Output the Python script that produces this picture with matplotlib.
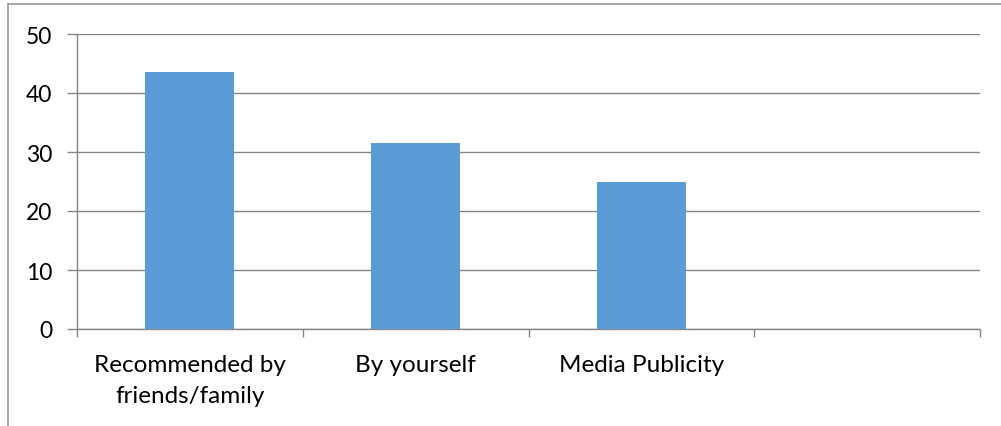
import numpy as np
import matplotlib.pyplot as plt
from matplotlib.lines import Line2D

categories = ['Recommended by\nfriends/family', 'By yourself', 'Media Publicity', '']
values = [43.6, 31.5, 25.0]
yticks = [0, 10, 20, 30, 40, 50]

plt.rcParams['font.family'] = ['Lato', 'DejaVu Sans']

W, H = 1001, 427
fig = plt.figure(figsize=(W / 100, H / 100), dpi=100)
ax = fig.add_axes([77 / W, (H - 330) / H, (980 - 77) / W, (330 - 35) / H])

grey = '#868686'
centers = np.arange(len(categories)) + 0.5
ax.bar(centers[:len(values)], values, width=0.395, color='#5B9BD5', zorder=3)

ax.set_xlim(0, len(categories))
ax.set_ylim(0, 50)
ax.set_yticks(yticks)
ax.yaxis.grid(True, color=grey, linewidth=1)
ax.set_axisbelow(True)

# category borders as major ticks, labels centred as minor ticks
ax.set_xticks(np.arange(len(categories) + 1))
ax.set_xticklabels([])
ax.set_xticks(centers, minor=True)
ax.set_xticklabels(categories, minor=True, fontsize=17.5, linespacing=1.6)
ax.tick_params(axis='x', which='major', length=5.8, color=grey, width=1)
ax.tick_params(axis='x', which='minor', length=0, pad=18)
ax.tick_params(axis='y', length=7.2, color=grey, width=1, labelsize=16.5, pad=10.5)

for s in ['top', 'right']:
    ax.spines[s].set_visible(False)
for s in ['left', 'bottom']:
    ax.spines[s].set_color(grey)
    ax.spines[s].set_linewidth(1)

# chart area border (only left and top visible)
fig.add_artist(Line2D([8 / W, 8 / W], [0, 1 - 5 / H], color='#999999', lw=1.2))
fig.add_artist(Line2D([8 / W, 1], [1 - 5 / H, 1 - 5 / H], color='#999999', lw=1.2))

fig.savefig('out.png', dpi=100)
